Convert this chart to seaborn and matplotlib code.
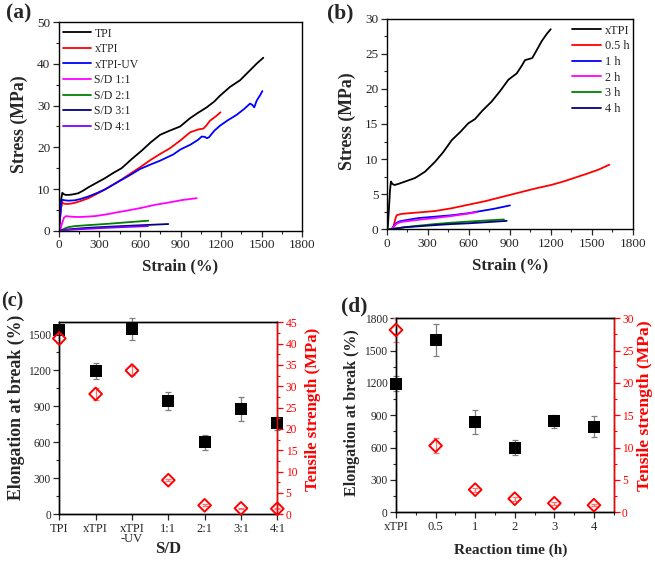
import numpy as np
import pandas as pd
import matplotlib
matplotlib.use("Agg")
import matplotlib.pyplot as plt
import seaborn as sns
from matplotlib.ticker import MultipleLocator

sns.set_style("ticks")
plt.rcParams['font.family'] = ['Liberation Serif', 'DejaVu Serif']

# ---------------- Panel (a) data: stress-strain curves ----------------
a_tpi_strain = [0, 8, 18, 27, 35, 50, 80, 120, 145, 180, 219, 280, 342, 400, 465, 540, 613, 680, 749, 820, 897, 971, 1030, 1094, 1150, 1192, 1266, 1340, 1414, 1460, 1512]
a_tpi_stress = [0, 2.5, 7.5, 9.1, 8.8, 8.6, 8.6, 8.8, 9.0, 9.6, 10.4, 11.5, 12.6, 13.8, 15.0, 17.2, 19.2, 21.2, 23.0, 24.0, 25.0, 27.0, 28.3, 29.6, 31.0, 32.4, 34.5, 36.1, 38.5, 40.0, 41.5]
a_xtpi_strain = [0, 8, 18, 27, 40, 59, 90, 120, 160, 219, 280, 342, 400, 465, 530, 601, 680, 749, 823, 897, 971, 1032, 1069, 1090, 1118, 1160, 1195]
a_xtpi_stress = [0, 2.0, 5.5, 6.7, 6.5, 6.4, 6.5, 6.7, 7.1, 7.8, 8.8, 9.9, 11.0, 12.3, 13.7, 15.2, 17.0, 18.4, 19.8, 21.6, 23.6, 24.3, 24.5, 25.2, 26.4, 27.4, 28.4]
a_xuv_strain = [0, 8, 18, 27, 45, 71, 120, 160, 219, 280, 342, 400, 465, 530, 601, 680, 749, 847, 900, 971, 1030, 1057, 1080, 1094, 1110, 1150, 1192, 1250, 1315, 1370, 1414, 1430, 1445, 1463, 1490, 1505]
a_xuv_stress = [0, 2.5, 6.5, 7.4, 7.3, 7.2, 7.3, 7.6, 8.2, 9.0, 9.9, 11.0, 12.2, 13.4, 14.8, 15.9, 16.8, 18.3, 19.5, 20.6, 21.8, 22.6, 22.5, 22.2, 22.4, 24.0, 25.2, 26.5, 27.8, 29.2, 30.5, 30.2, 29.6, 31.2, 32.6, 33.5]
a_sd11_strain = [10, 25, 40, 55, 80, 120, 170, 268, 350, 465, 600, 711, 820, 921, 1020]
a_sd11_stress = [0, 1.8, 3.2, 3.5, 3.4, 3.3, 3.3, 3.5, 3.9, 4.6, 5.4, 6.2, 6.8, 7.4, 7.8]
a_sd21_strain = [15, 30, 50, 71, 120, 200, 342, 500, 662]
a_sd21_stress = [0, 0.3, 0.6, 0.85, 1.1, 1.3, 1.6, 2.0, 2.4]
a_sd31_strain = [10, 40, 100, 219, 400, 600, 810]
a_sd31_stress = [0, 0.2, 0.4, 0.7, 1.0, 1.3, 1.6]
a_sd41_strain = [10, 50, 150, 300, 500, 660]
a_sd41_stress = [0, 0.15, 0.35, 0.6, 0.9, 1.1]
a_labels = ["TPI", "xTPI", "xTPI-UV", "S/D 1:1", "S/D 2:1", "S/D 3:1", "S/D 4:1"]

# ---------------- Panel (b) data ----------------
b_xtpi_strain = [7, 15, 24, 31, 40, 56, 90, 134, 207, 280, 353, 414, 476, 540, 597, 646, 700, 768, 830, 890, 951, 985, 1012, 1049, 1065, 1100, 1134, 1170, 1200]
b_xtpi_stress = [0, 2.5, 5.5, 6.8, 6.5, 6.3, 6.5, 6.8, 7.3, 8.2, 9.6, 11.0, 12.7, 13.9, 15.1, 15.7, 16.9, 18.2, 19.7, 21.3, 22.2, 23.2, 24.1, 24.3, 24.4, 25.6, 26.8, 27.8, 28.5]
b_05_strain = [45, 55, 65, 73, 90, 110, 232, 353, 476, 597, 719, 841, 963, 1085, 1200, 1292, 1400, 1463, 1550, 1629]
b_05_stress = [0, 0.8, 1.6, 2.0, 2.1, 2.2, 2.4, 2.6, 3.0, 3.5, 4.0, 4.6, 5.2, 5.8, 6.3, 6.8, 7.5, 7.9, 8.5, 9.2]
b_1_strain = [35, 50, 70, 90, 110, 232, 353, 476, 600, 658, 780, 902]
b_1_stress = [0, 0.4, 0.9, 1.1, 1.2, 1.6, 1.8, 2.0, 2.3, 2.5, 2.9, 3.4]
b_2_strain = [35, 50, 70, 90, 110, 232, 353, 476, 600, 660]
b_2_stress = [0, 0.35, 0.75, 0.95, 1.05, 1.35, 1.6, 1.9, 2.25, 2.45]
b_3_strain = [20, 60, 134, 250, 353, 480, 597, 720, 858]
b_3_stress = [0, 0.1, 0.3, 0.55, 0.75, 0.95, 1.1, 1.25, 1.4]
b_4_strain = [20, 60, 134, 250, 353, 480, 597, 720, 878]
b_4_stress = [0, 0.1, 0.3, 0.45, 0.6, 0.75, 0.85, 1.0, 1.2]
b_labels = ["xTPI", "0.5 h", "1 h", "2 h", "3 h", "4 h"]

# ---------------- Panel (c) data ----------------
c_cats = ["TPI", "xTPI", "xTPI\n-UV", "1:1", "2:1", "3:1", "4:1"]
c_elong = [1540, 1195, 1545, 945, 600, 880, 760]
c_elong_err = [35, 70, 95, 75, 65, 100, 55]
c_tensile = [41.2, 28.2, 33.7, 8.0, 2.1, 1.4, 1.3]
c_tensile_err = [1.0, 1.5, 1.0, 0.3, 0.2, 0.1, 0.1]

# ---------------- Panel (d) data ----------------
d_cats = ["xTPI", "0.5", "1", "2", "3", "4"]
d_elong = [1195, 1600, 840, 600, 845, 795]
d_elong_err = [70, 150, 110, 68, 60, 100]
d_tensile = [28.2, 10.3, 3.5, 2.1, 1.4, 1.1]
d_tensile_err = [1.9, 1.2, 0.3, 0.3, 0.2, 0.2]

W, H = 655, 561
fig = plt.figure(figsize=(W / 100, H / 100), dpi=100)

def px_axes(l, t, r, b):
    return fig.add_axes([l / W, 1 - b / H, (r - l) / W, (b - t) / H])

def style_axes(ax, xsize, ysize):
    for s in ax.spines.values():
        s.set_linewidth(1.0)
        s.set_color("black")
    ax.tick_params(which="major", direction="out", length=4, width=0.9, pad=2)
    ax.tick_params(which="minor", direction="out", length=2, width=0.8)
    ax.tick_params(axis="x", labelsize=xsize)
    ax.tick_params(axis="y", labelsize=ysize)

line_w = 1.3

def curve_panel(l, t, r, b, series, labels, ymax, ystep, legend_loc, anchor, ylab_xy, xlab_y, legsize):
    ax = px_axes(l, t, r, b)
    for (xs, ys, col), lab in zip(series, labels):
        sns.lineplot(x=xs, y=ys, color=col, sort=False, estimator=None, lw=line_w, ax=ax, label=lab)
    ax.set_xlim(0, 1800)
    ax.set_ylim(0, ymax)
    ax.xaxis.set_major_locator(MultipleLocator(300))
    ax.xaxis.set_minor_locator(MultipleLocator(150))
    ax.yaxis.set_major_locator(MultipleLocator(ystep))
    ax.yaxis.set_minor_locator(MultipleLocator(ystep / 2))
    style_axes(ax, 9.5, 9.5)
    ax.set_xlabel("Strain (%)", fontsize=12, fontweight="bold")
    ax.set_ylabel("Stress (MPa)", fontsize=12.75, fontweight="bold")
    ax.xaxis.set_label_coords(0.5, xlab_y)
    ax.yaxis.set_label_coords(*ylab_xy)
    ax.legend(loc=legend_loc, bbox_to_anchor=anchor, frameon=False, fontsize=legsize,
              handlelength=2.4, handletextpad=0.3, labelspacing=0.3, borderpad=0, borderaxespad=0)
    return ax

a_series = [(a_tpi_strain, a_tpi_stress, "black"), (a_xtpi_strain, a_xtpi_stress, "#ff0000"),
            (a_xuv_strain, a_xuv_stress, "#0000ff"), (a_sd11_strain, a_sd11_stress, "#ff00ff"),
            (a_sd21_strain, a_sd21_stress, "#008000"), (a_sd31_strain, a_sd31_stress, "#000080"),
            (a_sd41_strain, a_sd41_stress, "#8000ff")]
curve_panel(58.7, 22.3, 302.3, 230.7, a_series, a_labels, 50, 10, "upper left", (0.016, 0.975),
            (-0.126, 0.511), -0.133, 8.5)

b_series = [(b_xtpi_strain, b_xtpi_stress, "black"), (b_05_strain, b_05_stress, "#ff0000"),
            (b_1_strain, b_1_stress, "#0000ff"), (b_2_strain, b_2_stress, "#ff00ff"),
            (b_3_strain, b_3_stress, "#008000"), (b_4_strain, b_4_stress, "#000080")]
curve_panel(386.7, 18.7, 632.7, 229.3, b_series, b_labels, 30, 5, "upper right", (0.988, 0.972),
            (-0.125, 0.515), -0.132, 8.8)

def dual_panel(l, t, r, b, cats, elong, elong_err, tens, tens_err, ylim_l, ylim_r, xmax,
               xlabel, xlab_size, xlab_xy, minor_x, yl_size, yl_xy, yr_size, yr_xy):
    ax = px_axes(l, t, r, b)
    ax2 = ax.twinx()
    pos = np.arange(len(cats))
    ax.errorbar(pos, elong, yerr=elong_err, fmt="none", ecolor="#7f7f7f", elinewidth=0.9,
                capsize=2.5, capthick=0.9, zorder=2, clip_on=False)
    sns.scatterplot(x=pos, y=elong, marker="s", color="black", s=72, linewidth=0, ax=ax,
                    zorder=3, clip_on=False)
    ax2.errorbar(pos, tens, yerr=tens_err, fmt="none", ecolor="#ff7070", elinewidth=0.9,
                 capsize=2.5, capthick=0.9, zorder=2, clip_on=False)
    sns.scatterplot(x=pos, y=tens, marker="D", facecolors="none", edgecolor="#ff0000", s=42,
                    linewidth=1.4, ax=ax2, zorder=3, clip_on=False)
    ax.set_xlim(0, xmax)
    ax.set_ylim(0, ylim_l)
    ax2.set_ylim(0, ylim_r)
    ax.set_xticks(pos)
    ax.set_xticklabels(cats, linespacing=0.85)
    if minor_x:
        ax.xaxis.set_minor_locator(MultipleLocator(0.5))
    ax.yaxis.set_major_locator(MultipleLocator(300))
    ax.yaxis.set_minor_locator(MultipleLocator(150))
    ax2.yaxis.set_major_locator(MultipleLocator(5))
    ax2.yaxis.set_minor_locator(MultipleLocator(2.5))
    style_axes(ax, 9, 8.3)
    style_axes(ax2, 9, 8.3)
    ax2.spines["right"].set_color("#ff0000")
    ax2.tick_params(axis="y", which="both", colors="#ff0000")
    ax.set_xlabel(xlabel, fontsize=xlab_size, fontweight="bold")
    ax.xaxis.set_label_coords(*xlab_xy)
    ax.set_ylabel("Elongation at break (%)", fontsize=yl_size, fontweight="bold")
    ax.yaxis.set_label_coords(*yl_xy)
    ax2.set_ylabel("Tensile strength (MPa)", fontsize=yr_size, fontweight="bold", color="#ff0000")
    ax2.yaxis.set_label_coords(*yr_xy)
    return ax, ax2

dual_panel(59.3, 322.3, 277.3, 514.3, c_cats, c_elong, c_elong_err, c_tensile, c_tensile_err,
           1600, 45, 6, "S/D", 12, (0.5, -0.138), False, 12.8, (-0.157, 0.555), 12.1, (1.127, 0.548))
dual_panel(396, 318.3, 613.7, 512.3, d_cats, d_elong, d_elong_err, d_tensile, d_tensile_err,
           1800, 30, 5.5, "Reaction time (h)", 11.1, (0.526, -0.163), True, 11.5, (-0.165, 0.512),
           12.6, (1.107, 0.549))

for txt, x, y, fs in [("(a)", 6, 13, 15.5), ("(b)", 327, 13, 15.5), ("(c)", 1, 301, 14.5), ("(d)", 341, 306, 15.5)]:
    fig.text(x / W, 1 - y / H, txt, fontsize=fs, fontweight="bold", va="center", ha="left")

fig.savefig("out.png", dpi=100)
